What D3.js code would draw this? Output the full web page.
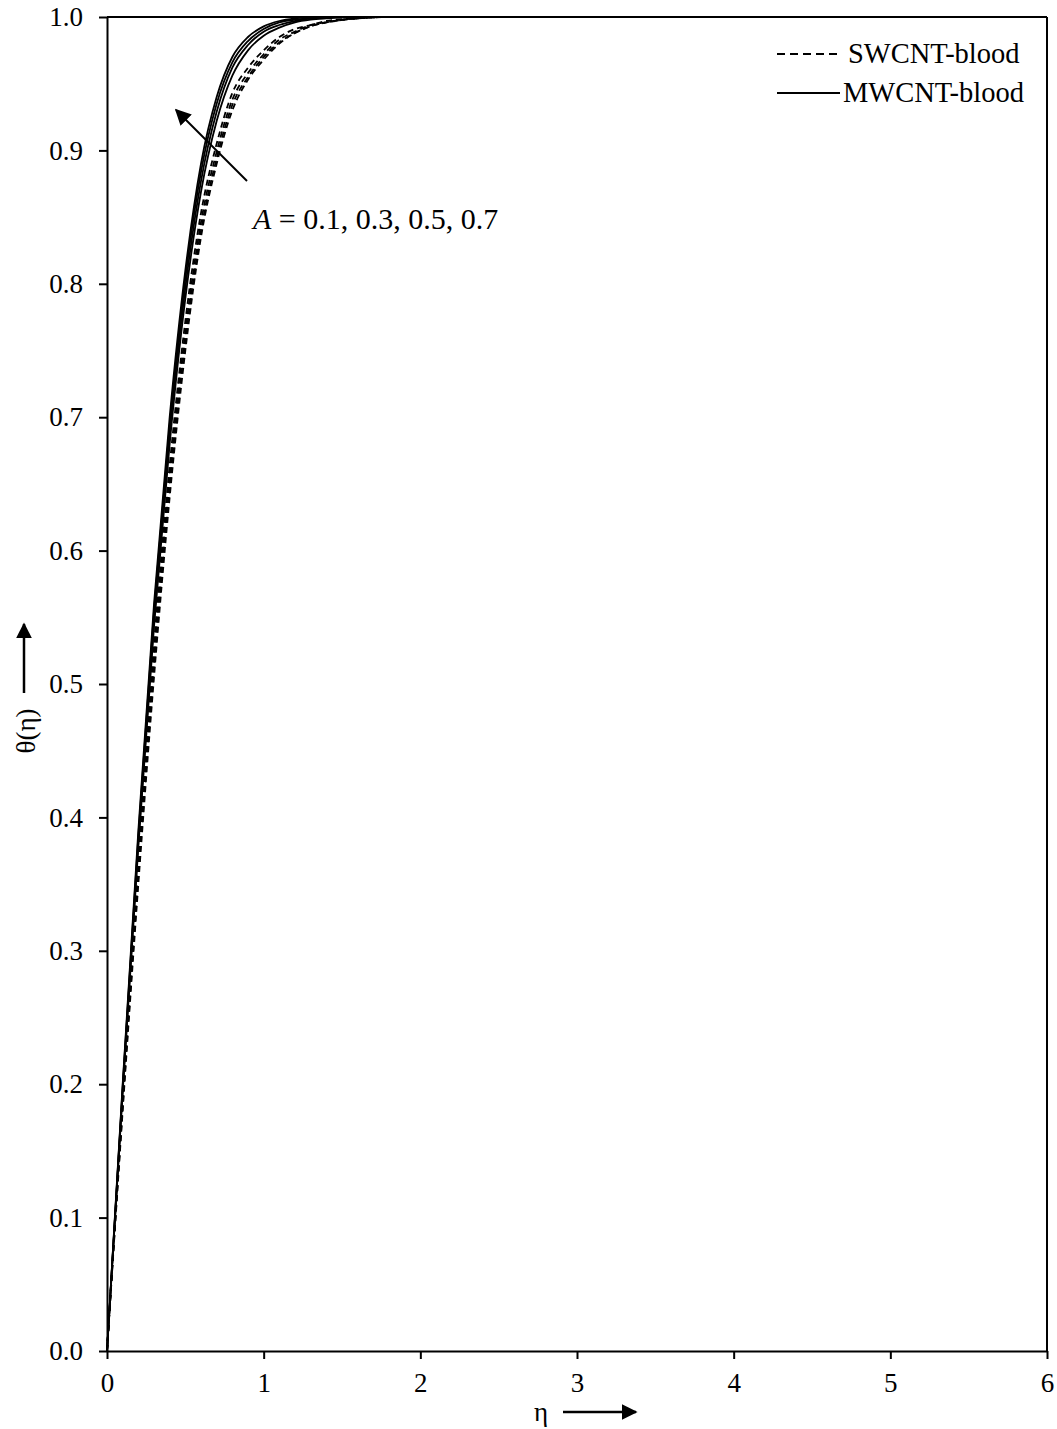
<!DOCTYPE html>
<html>
<head>
<meta charset="utf-8">
<script src="https://cdn.jsdelivr.net/npm/d3@7"></script>
<style>
  body { margin: 0; background: #fff; }
  text { font-family: "Liberation Serif", "Times New Roman", serif; fill: #000; }
</style>
</head>
<body>
<script>
/* data */
var eta = [0, 0.1, 0.2, 0.3, 0.4, 0.5, 0.6, 0.7, 0.8, 0.9, 1.0, 1.1, 1.2, 1.3, 1.4, 1.6, 1.8, 2, 3, 4, 5, 6];

/* MWCNT-blood (solid), A = 0.7, 0.5, 0.3, 0.1 */
var mw07 = [0, .200, .390, .560, .700, .810, .890, .940, .970, .985, .993, .997, .999, 1, 1, 1, 1, 1, 1, 1, 1, 1];
var mw05 = [0, .198, .386, .555, .694, .804, .884, .935, .966, .982, .991, .996, .998, .999, 1, 1, 1, 1, 1, 1, 1, 1];
var mw03 = [0, .196, .382, .549, .688, .797, .877, .929, .962, .979, .989, .994, .997, .999, 1, 1, 1, 1, 1, 1, 1, 1];
var mw01 = [0, .194, .378, .543, .680, .789, .869, .922, .956, .975, .986, .992, .996, .998, .999, 1, 1, 1, 1, 1, 1, 1];

/* SWCNT-blood (dashed), A = 0.7, 0.5, 0.3, 0.1 */
var sw07 = [0, .189, .368, .530, .664, .772, .853, .905, .943, .962, .975, .985, .991, .994, .997, .999, 1, 1, 1, 1, 1, 1];
var sw05 = [0, .186, .362, .522, .656, .764, .846, .899, .938, .958, .972, .983, .989, .994, .996, .999, 1, 1, 1, 1, 1, 1];
var sw03 = [0, .183, .356, .513, .648, .757, .840, .894, .934, .955, .970, .981, .988, .993, .996, .999, 1, 1, 1, 1, 1, 1];
var sw01 = [0, .180, .350, .505, .640, .750, .835, .890, .930, .953, .968, .980, .988, .993, .996, .999, 1, 1, 1, 1, 1, 1];

var xTicks = [0, 1, 2, 3, 4, 5, 6];
var yTicks = [0, 0.1, 0.2, 0.3, 0.4, 0.5, 0.6, 0.7, 0.8, 0.9, 1.0];

var series = [
  {vals: sw07, dash: true}, {vals: sw05, dash: true}, {vals: sw03, dash: true}, {vals: sw01, dash: true},
  {vals: mw07, dash: false}, {vals: mw05, dash: false}, {vals: mw03, dash: false}, {vals: mw01, dash: false}
];

var W = 1057, H = 1429;
var pLeft = 107, pRight = 1047, pTop = 17, pBottom = 1351;

var svg = d3.select("body").append("svg")
  .attr("width", W).attr("height", H);

var defs = svg.append("defs");
defs.append("marker").attr("id", "ah2")
  .attr("viewBox", "0 0 10 10").attr("refX", 9).attr("refY", 5)
  .attr("markerWidth", 16).attr("markerHeight", 16)
  .attr("markerUnits", "userSpaceOnUse").attr("orient", "auto")
  .append("path").attr("d", "M0,0L10,5L0,10z").attr("fill", "#000");

var x = d3.scaleLinear().domain([0, 6]).range([pLeft, pRight]);
var y = d3.scaleLinear().domain([0, 1]).range([pBottom, pTop]);

/* curves */
var line = d3.line()
  .x(function (d, i) { return x(eta[i]); })
  .y(function (d) { return y(d); })
  .curve(d3.curveMonotoneX);

svg.append("g").selectAll("path")
  .data(series).enter().append("path")
  .attr("d", function (s) { return line(s.vals); })
  .attr("fill", "none")
  .attr("stroke", "#000")
  .attr("stroke-width", 1.8)
  .attr("stroke-dasharray", function (s) { return s.dash ? "6,4" : null; });

/* axes */
var xAxis = d3.axisBottom(x).tickValues(xTicks).tickSize(8).tickSizeOuter(0)
  .tickFormat(d3.format("d"));
var gx = svg.append("g").attr("transform", "translate(0," + pBottom + ")").call(xAxis);
gx.selectAll("text").attr("font-size", 27).attr("dy", "1.1em")
  .style("font-family", "'Liberation Serif', serif");

var yAxis = d3.axisLeft(y).tickValues(yTicks).tickSize(8).tickSizeOuter(0)
  .tickFormat(d3.format(".1f"));
var gy = svg.append("g").attr("transform", "translate(" + pLeft + ",0)").call(yAxis);
gy.selectAll("text").attr("font-size", 27).attr("x", -24)
  .style("font-family", "'Liberation Serif', serif");

svg.selectAll(".domain, .tick line").attr("stroke", "#000").attr("stroke-width", 2);

/* frame top and right */
svg.append("line").attr("x1", pLeft).attr("x2", pRight).attr("y1", pTop).attr("y2", pTop)
  .attr("stroke", "#000").attr("stroke-width", 2);
svg.append("line").attr("x1", pRight).attr("x2", pRight).attr("y1", pTop).attr("y2", pBottom)
  .attr("stroke", "#000").attr("stroke-width", 2);

/* axis titles */
svg.append("text").attr("x", 541).attr("y", 1421).attr("text-anchor", "middle")
  .attr("font-size", 27).text("η");
svg.append("line").attr("x1", 563).attr("x2", 636).attr("y1", 1412).attr("y2", 1412)
  .attr("stroke", "#000").attr("stroke-width", 2.5).attr("marker-end", "url(#ah2)");

svg.append("text")
  .attr("transform", "translate(35,731) rotate(-90)")
  .attr("text-anchor", "middle").attr("font-size", 27).text("θ(η)");
svg.append("line").attr("x1", 24).attr("x2", 24).attr("y1", 693).attr("y2", 624)
  .attr("stroke", "#000").attr("stroke-width", 2.5).attr("marker-end", "url(#ah2)");

/* annotation arrow */
svg.append("line").attr("x1", 247).attr("y1", 181).attr("x2", 176).attr("y2", 110)
  .attr("stroke", "#000").attr("stroke-width", 2).attr("marker-end", "url(#ah2)");
var ann = svg.append("text").attr("x", 253).attr("y", 229).attr("font-size", 30);
ann.append("tspan").attr("font-style", "italic").text("A");
ann.append("tspan").text(" = 0.1, 0.3, 0.5, 0.7");

/* legend */
var legend = [{name: "SWCNT-blood", dash: true}, {name: "MWCNT-blood", dash: false}];
var lg = svg.append("g").selectAll("g").data(legend).enter().append("g")
  .attr("transform", function (d, i) { return "translate(0," + (54 + i * 39) + ")"; });
lg.append("line").attr("x1", 777)
  .attr("x2", 840).attr("y1", 0).attr("y2", 0)
  .attr("stroke", "#000").attr("stroke-width", 1.8)
  .attr("stroke-dasharray", function (d) { return d.dash ? "8,5" : null; });
lg.append("text").attr("x", function (d) { return d.dash ? 848 : 843; })
  .attr("y", 9).attr("font-size", 28.5).text(function (d) { return d.name; });
</script>
</body>
</html>
